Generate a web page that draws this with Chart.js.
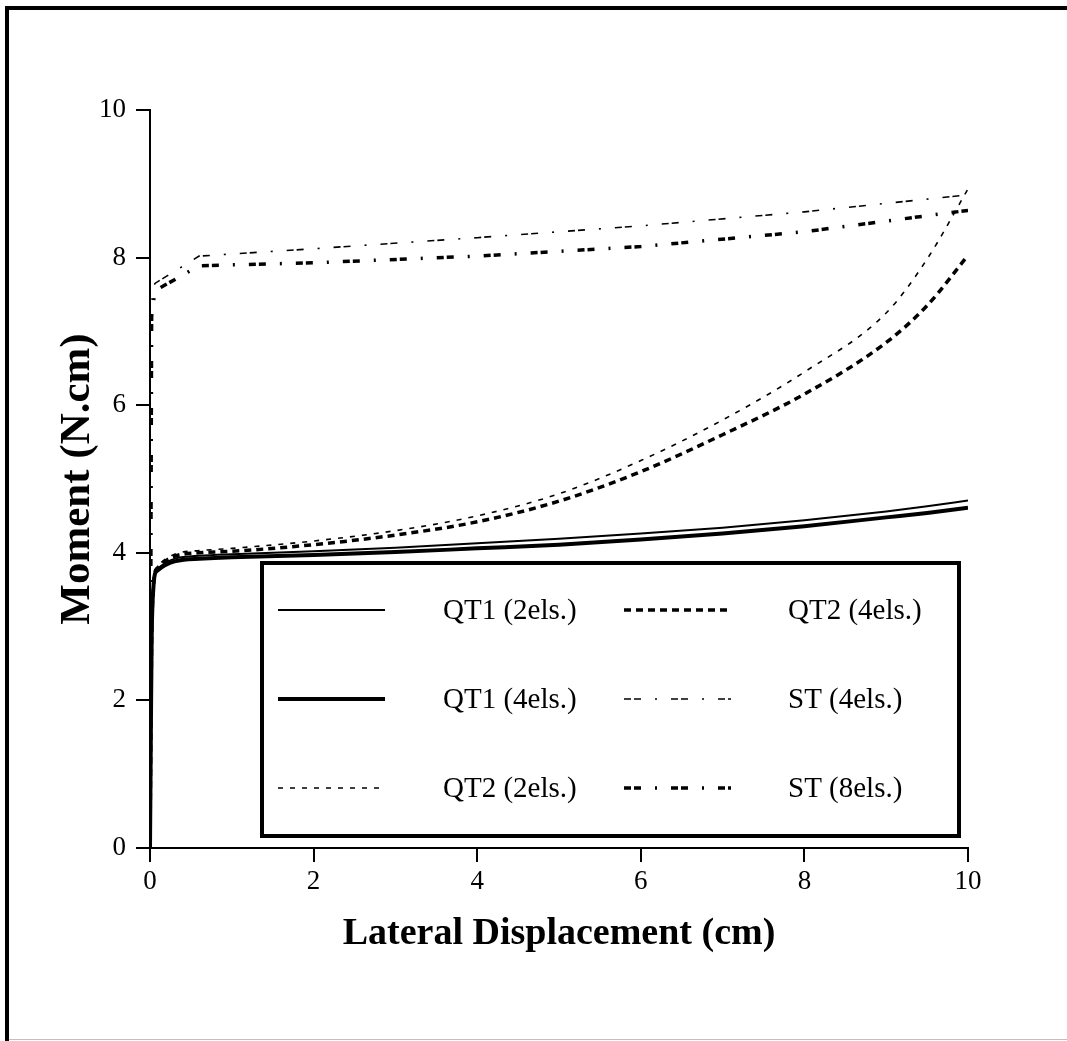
<!DOCTYPE html>
<html>
<head>
<meta charset="utf-8">
<title>Moment vs Lateral Displacement</title>
<script src="https://cdn.jsdelivr.net/npm/chart.js@4.4.1/dist/chart.umd.min.js"></script>
<style>
  html, body { margin: 0; padding: 0; background: #fff; }
  #wrap { width: 1067px; height: 1041px; position: relative; }
</style>
</head>
<body>
<div id="wrap"><canvas id="chart" width="1067" height="1041"></canvas></div>
<script>
// 横向位移 (cm)
const qtX = [0, 0.01, 0.02, 0.04, 0.08, 0.6, 1, 2, 3, 4, 5, 6, 7, 8, 9, 9.5, 10];
const stX4 = [0, 0.01, 0.06, 0.6, 2, 4, 6, 8, 10];
const stX8 = [0, 0.02, 0.06, 0.6, 2, 4, 6, 8, 10];

// 弯矩 (N.cm)
const qt1Els2 = [0, 1.5, 2.8, 3.5, 3.77, 3.96, 3.98, 4.02, 4.07, 4.13, 4.19, 4.26, 4.34, 4.44, 4.56, 4.63, 4.71];
const qt1Els4 = [0, 1.5, 2.8, 3.5, 3.75, 3.92, 3.94, 3.97, 4.01, 4.06, 4.11, 4.18, 4.26, 4.36, 4.48, 4.54, 4.61];
const qt2Els2 = [0, 1.5, 2.8, 3.5, 3.8, 4.03, 4.06, 4.16, 4.3, 4.5, 4.8, 5.25, 5.8, 6.45, 7.25, 7.98, 8.93];
const qt2Els4 = [0, 1.5, 2.8, 3.5, 3.78, 4.0, 4.02, 4.11, 4.24, 4.42, 4.7, 5.1, 5.6, 6.15, 6.85, 7.35, 8.03];
const stEls4 = [0, 7.5, 7.65, 8.02, 8.12, 8.27, 8.43, 8.62, 8.85];
const stEls8 = [0, 7.2, 7.55, 7.89, 7.93, 8.02, 8.15, 8.35, 8.64];

const seriesNames = ['QT1 (2els.)', 'QT1 (4els.)', 'QT2 (2els.)', 'QT2 (4els.)', 'ST (4els.)', 'ST (8els.)'];
const xTicks = [0, 2, 4, 6, 8, 10];
const yTicks = [0, 2, 4, 6, 8, 10];

const FONT = '"Liberation Serif", "Times New Roman", serif';

function toPoints(xs, ys) {
  return xs.map((x, i) => ({ x: x, y: ys[i] }));
}

function makeSet(label, xs, ys, width, dash, smooth) {
  return {
    label: label,
    data: toPoints(xs, ys),
    borderColor: '#000',
    borderWidth: width,
    borderDash: dash,
    pointRadius: 0,
    fill: false,
    tension: 0,
    cubicInterpolationMode: smooth ? 'monotone' : 'default',
    borderCapStyle: 'butt'
  };
}

const datasets = [
  makeSet(seriesNames[0], qtX, qt1Els2, 2, [], true),
  makeSet(seriesNames[1], qtX, qt1Els4, 4, [], true),
  makeSet(seriesNames[2], qtX, qt2Els2, 1.6, [5, 7], true),
  makeSet(seriesNames[3], qtX, qt2Els4, 3.5, [7, 5], true),
  makeSet(seriesNames[4], stX4, stEls4, 1.6, [7, 3, 7, 14, 2, 14], false),
  makeSet(seriesNames[5], stX8, stEls8, 3.5, [7, 3, 7, 14, 2, 14], false)
];

// 外框 + 图例框
const framePlugin = {
  id: 'frame',
  afterDraw(chart) {
    const ctx = chart.ctx;
    ctx.save();
    // 外框：上、左粗线，底部细灰线
    ctx.fillStyle = '#000';
    ctx.fillRect(5, 6, 1062, 4);
    ctx.fillRect(5, 6, 4, 1035);
    ctx.fillStyle = '#c0c0c0';
    ctx.fillRect(9, 1039, 1058, 1);

    // 图例
    const box = { x: 262, y: 563, w: 697, h: 273 };
    ctx.fillStyle = '#fff';
    ctx.fillRect(box.x, box.y, box.w, box.h);
    ctx.strokeStyle = '#000';
    ctx.lineWidth = 4;
    ctx.strokeRect(box.x, box.y, box.w, box.h);

    const rows = [610, 699, 788];
    const cols = [
      { lineX: 278, lineW: 107, textX: 443 },
      { lineX: 624, lineW: 107, textX: 788 }
    ];
    ctx.font = '29px ' + FONT;
    ctx.textBaseline = 'middle';
    ctx.textAlign = 'left';
    chart.data.datasets.forEach((ds, i) => {
      const c = cols[Math.floor(i / 3)];
      const y = rows[i % 3];
      ctx.beginPath();
      ctx.setLineDash(ds.borderDash || []);
      ctx.lineWidth = ds.borderWidth;
      ctx.strokeStyle = '#000';
      ctx.moveTo(c.lineX, y);
      ctx.lineTo(c.lineX + c.lineW, y);
      ctx.stroke();
      ctx.setLineDash([]);
      ctx.fillStyle = '#000';
      ctx.fillText(ds.label, c.textX, y + 1);
    });
    ctx.restore();
  }
};

new Chart(document.getElementById('chart'), {
  type: 'line',
  data: { datasets: datasets },
  plugins: [framePlugin],
  options: {
    responsive: false,
    animation: false,
    layout: { padding: { top: 110, right: 99, left: 0, bottom: 0 } },
    plugins: {
      legend: { display: false },
      tooltip: { enabled: false }
    },
    scales: {
      x: {
        type: 'linear',
        min: 0,
        max: 10,
        afterFit(scale) { scale.height = 193; },
        afterBuildTicks(scale) { scale.ticks = xTicks.map(v => ({ value: v })); },
        border: { display: true, color: '#000', width: 2 },
        grid: { drawOnChartArea: false, drawTicks: true, tickLength: 14, color: '#000', lineWidth: 2 },
        ticks: { color: '#000', padding: 4, font: { family: FONT, size: 27 } },
        title: {
          display: true,
          text: 'Lateral Displacement (cm)',
          color: '#000',
          font: { family: FONT, size: 38, weight: 'bold' },
          padding: { top: 0, bottom: 84 }
        }
      },
      y: {
        type: 'linear',
        min: 0,
        max: 10,
        afterFit(scale) { scale.width = 150; },
        afterBuildTicks(scale) { scale.ticks = yTicks.map(v => ({ value: v })); },
        border: { display: true, color: '#000', width: 2 },
        grid: { drawOnChartArea: false, drawTicks: true, tickLength: 14, color: '#000', lineWidth: 2 },
        ticks: { color: '#000', padding: 10, font: { family: FONT, size: 27 } },
        title: {
          display: true,
          text: 'Moment (N.cm)',
          color: '#000',
          font: { family: FONT, size: 43, weight: 'bold' },
          padding: { top: 52, bottom: 0 }
        }
      }
    }
  }
});
</script>
</body>
</html>
